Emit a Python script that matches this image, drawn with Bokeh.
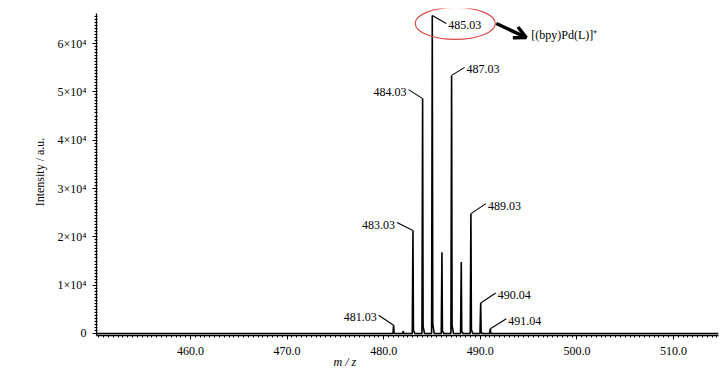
import numpy as np
from bokeh.plotting import figure
from bokeh.models import (ColumnDataSource, Label, Arrow, OpenHead, Title,
                          NumeralTickFormatter, FixedTicker)
from bokeh.embed import file_html
from bokeh.resources import INLINE
from bokeh.core.properties import value

# ---- data ----
mz = [481.03, 482.03, 483.03, 484.03, 485.03, 486.03, 487.03, 488.03, 489.03, 490.04, 491.04]
intensity = [1700, 500, 21300, 48600, 65800, 16800, 53400, 14800, 24800, 6300, 1000]
peak_labels = ["481.03", "", "483.03", "484.03", "485.03", "", "487.03", "", "489.03", "490.04", "491.04"]
ion_label = "[(bpy)Pd(L)]\u207a"
x_title = "m / z"
y_title = "Intensity / a.u."
x_ticks = [460, 470, 480, 490, 500, 510]
y_ticks = [0, 10000, 20000, 30000, 40000, 50000, 60000]
y_tick_labels = ["0", "1\u00d710\u2074", "2\u00d710\u2074", "3\u00d710\u2074",
                 "4\u00d710\u2074", "5\u00d710\u2074", "6\u00d710\u2074"]

# ---- styling / layout ----
FONT = "Liberation Serif"
W, H = 727, 368
BL, BR, BT, BB = 96, 9, 8, 33
FW, FH = W - BL - BR, H - BT - BB
x0, x1 = 450.27, 514.66
y0, y1 = -414.0, 67243.0
xpp = (x1 - x0) / FW      # data units per pixel
ypp = (y1 - y0) / FH

# leader offsets in pixels (dx, dy up) and text alignment per label
lead_dx = [-15, 0, -16, -14, 14, 0, 13, 0, 15, 15, 16]
lead_dy = [10, 0, 8, 9, -8, 0, 8, 0, 10, 10, 10]
align = ["right", "", "right", "right", "left", "", "left", "", "left", "left", "left"]

p = figure(width=W, height=H, x_range=(x0, x1), y_range=(y0, y1),
           output_backend="svg", toolbar_location=None,
           min_border_left=BL, min_border_right=BR, min_border_top=BT,
           min_border_bottom=BB)
p.outline_line_color = None
p.grid.visible = False
p.background_fill_color = "white"
p.border_fill_color = "white"

# spectrum line: baseline with narrow spikes
xs = [x0]
ys = [0.0]
for m, h in zip(mz, intensity):
    xs += [m - 0.07, m, m + 0.05, m + 0.2]
    ys += [0.0, h, h * 0.03, 0.0]
xs.append(x1)
ys.append(0.0)
p.line(xs, ys, line_color="black", line_width=1.6)

# leaders and peak labels
lx0, ly0, lx1, ly1 = [], [], [], []
tx, ty, tt, ta = [], [], [], []
for m, h, t, dx, dy, a in zip(mz, intensity, peak_labels, lead_dx, lead_dy, align):
    if not t:
        continue
    ex = m + dx * xpp
    ey = h + dy * ypp
    lx0.append(m); ly0.append(h); lx1.append(ex); ly1.append(ey)
    tx.append(ex + (2 if a == "left" else -2) * xpp)
    ty.append(ey)
    tt.append(t)
    ta.append(a)
p.segment(lx0, ly0, lx1, ly1, line_color="black", line_width=1.1)
src = ColumnDataSource(dict(x=tx, y=ty, text=tt, align=ta))
p.text("x", "y", text="text", source=src, text_align="align", text_baseline="middle",
       y_offset=2, text_font=value(FONT), text_font_size="12px", text_color="black")

# highlight of main peak
imax = int(np.argmax(intensity))
pmx, pmy = mz[imax], intensity[imax]
p.ellipse(x=[pmx + 23 * xpp], y=[pmy - 8 * ypp], width=80, height=32,
          width_units="screen", height_units="screen",
          fill_color=None, line_color="#d64a4a", line_width=1.2)
p.add_layout(Arrow(end=OpenHead(size=12, line_width=3.5, line_color="black"),
                   x_start=pmx + 64 * xpp, y_start=pmy - 8 * ypp,
                   x_end=pmx + 94 * xpp, y_end=pmy - 22 * ypp,
                   line_width=3.5, line_color="black"))
p.add_layout(Label(x=pmx + 99 * xpp, y=pmy - 20 * ypp, text=ion_label,
                   text_font=FONT, text_font_size="12px", text_baseline="middle",
                   text_align="left", text_color="black"))

# axes
xa = p.xaxis[0]
xa.ticker = FixedTicker(ticks=x_ticks, minor_ticks=list(np.arange(450.5, 515, 0.5)))
xa.formatter = NumeralTickFormatter(format="0.0")
xa.major_tick_in = 0
xa.major_tick_out = 4
xa.minor_tick_in = 0
xa.minor_tick_out = 2
xa.major_label_standoff = 7
xa.major_label_text_font = FONT
xa.major_label_text_font_size = "12px"
xa.major_label_text_color = "black"
xa.axis_line_width = 1.3
xa.axis_line_color = "black"

ya = p.yaxis[0]
ya.ticker = FixedTicker(ticks=y_ticks, minor_ticks=list(np.arange(0, 66000, 625)))
ya.major_label_overrides = {t: l for t, l in zip(y_ticks, y_tick_labels)}
ya.bounds = (y0, y0 + (335 - 13) * ypp)
ya.major_tick_in = 0
ya.major_tick_out = 4
ya.minor_tick_in = 1
ya.minor_tick_out = 2
ya.major_label_standoff = 6
ya.major_label_text_font = FONT
ya.major_label_text_font_size = "12px"
ya.major_label_text_color = "black"
ya.axis_label = y_title
ya.axis_label_text_font = FONT
ya.axis_label_text_font_size = "12px"
ya.axis_label_text_font_style = "normal"
ya.axis_label_text_color = "black"
ya.axis_label_standoff = 8
ya.axis_line_width = 1.3
ya.axis_line_color = "black"

# x axis title as a below-title, shifted to its place under the axis
p.add_layout(Title(text=x_title, align="left", offset=237, standoff=-9,
                   text_font=FONT, text_font_size="12px", text_font_style="italic",
                   text_color="black"), "below")

open("out.html", "w").write(file_html(p, INLINE))
